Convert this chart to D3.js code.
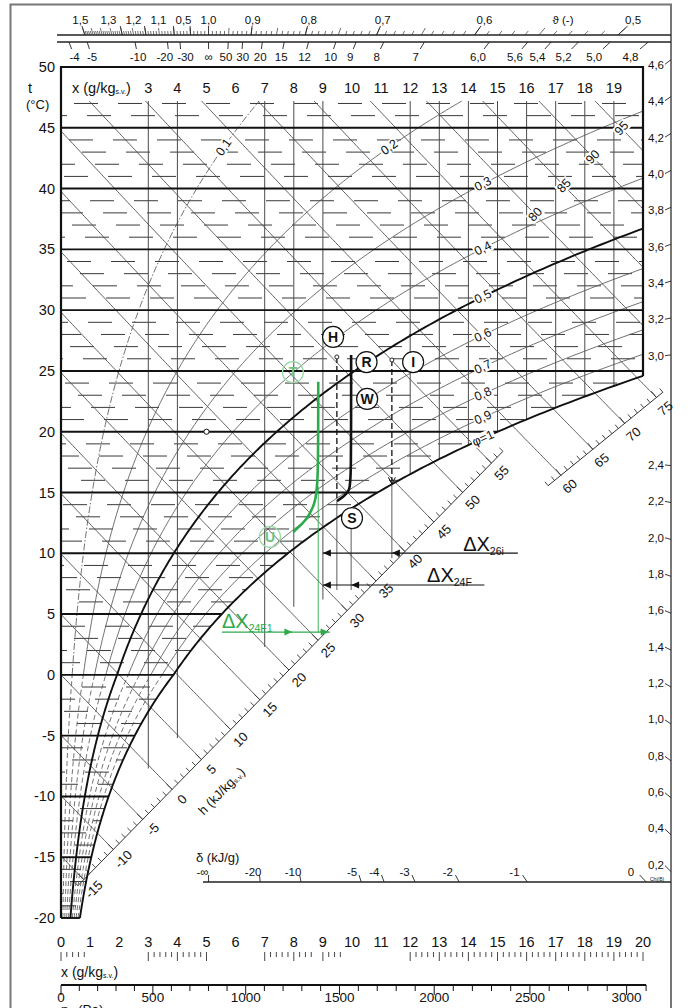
<!DOCTYPE html>
<html>
<head>
<meta charset="utf-8">
<script src="https://cdn.jsdelivr.net/npm/d3@7/dist/d3.min.js"></script>
<style>
  html,body{margin:0;padding:0;background:#fff;}
  svg text{font-family:"Liberation Sans",Arial,sans-serif;fill:#111;}
</style>
</head>
<body>
<svg id="chart" width="688" height="1008"></svg>
<script>
// ---------------- chart values ----------------
const totalPressure = 99000;                       // Pa
const tempLabels = [50,45,40,35,30,25,20,15,10,5,0,-5,-10,-15,-20];
const majorIsotherms = [45,40,35,30,25,20,15,10,5,0,-5,-10,-15,-20];
const xTopLabels = [3,4,5,6,7,8,9,10,11,12,13,14,15,16,17,18,19];
const xBottomLabels = [0,1,2,3,4,5,6,7,8,9,10,11,12,13,14,15,16,17,18,19,20];
const xGridLines = [3,4,7,8,9,12,13,14,15,16,17,18,19];
const xGridLowT  = [-7.7,-5.2,2.3,5.6,6.2,null,null,null,null,null,null,null,null]; // null: ends on φ=1
const phiLevels = [0.1,0.2,0.3,0.4,0.5,0.6,0.7,0.8,0.9,1.0];
const phiNames  = ["0,1","0,2","0,3","0,4","0,5","0,6","0,7","0,8","0,9","φ=1"];
const phiHeavy  = [0.5,1.0];
const enthalpyLevels = [-15,-10,-5,0,5,10,15,20,25,30,35,40,45,50,55,60,65,70,75,80,85,90,95];
const enthalpyScaleLabels = [-15,-10,-5,0,5,10,15,20,25,30,35,40,45,50,55,60,65,70,75];
const enthalpyFieldLabels = [80,85,90,95];
const thetaValues = [1.5,1.3,1.2,1.1,1.05,1.0,0.9,0.8,0.7,0.6,0.5];
const thetaNames  = ["1,5","1,3","1,2","1,1","0,5","1,0","0,9","0,8","0,7","0,6","0,5"];
const deltaTopValues = [-4,-5,-10,-20,-30,Infinity,50,30,20,15,12,10,9,8,7,6.0,5.6,5.4,5.2,5.0,4.8];
const deltaTopNames  = ["-4","-5","-10","-20","-30","∞","50","30","20","15","12","10","9","8","7","6,0","5,6","5,4","5,2","5,0","4,8"];
const deltaRightValues = [4.6,4.4,4.2,4.0,3.8,3.6,3.4,3.2,3.0,2.4,2.2,2.0,1.8,1.6,1.4,1.2,1.0,0.8,0.6,0.4,0.2];
const deltaBottomValues = [-Infinity,-20,-10,-5,-4,-3,-2,-1,0];
const deltaBottomNames  = ["-∞","-20","-10","-5","-4","-3","-2","-1","0"];
const pressureLabels = [0,500,1000,1500,2000,2500,3000];

// process paths, (x g/kg, t °C)
const processRS = [[9.97,26.3],[9.97,16.0],[9.92,15.2],[9.72,14.65],[9.48,14.3]];
const processTU = [[8.84,24.1],[8.84,15.5],[8.73,14.1],[8.44,12.7],[7.98,11.75]];
const pointMarks = [
  {name:"H", x:9.35, t:27.8, green:false},
  {name:"R", x:10.5, t:25.73, green:false},
  {name:"I", x:12.1, t:25.73, green:false},
  {name:"W", x:10.52,t:22.7, green:false},
  {name:"S", x:10.0, t:12.9, green:false},
  {name:"T", x:7.97, t:24.9, green:true},
  {name:"U", x:7.18, t:11.35, green:true}
];

// ---------------- scales ----------------
const xS = d3.scaleLinear().domain([0,20]).range([61,643]);
const yS = d3.scaleLinear().domain([-20,50]).range([918,67]);
const pix = d => [xS(d[0]), yS(d[1])];
const lineXT = d3.line().x(d => xS(d[0])).y(d => yS(d[1]));
const T_TOP = 47.2;

// ---------------- moist air ----------------
function pSat(t){ return t>=0 ? 611.2*Math.exp(17.62*t/(243.12+t)) : 611.2*Math.exp(22.46*t/(272.62+t)); }
function xOfPv(pv){ return 622*pv/(totalPressure-pv); }
function xSat(t){ return xOfPv(pSat(t)); }
function tOfH(h,x){ return (h-2.501*x)/(1.006+0.00186*x); }
function tForPhiX(phi,x){
  let lo=-45, hi=80;
  for(let i=0;i<60;i++){ const m=(lo+hi)/2; if(xOfPv(phi*pSat(m))<x) lo=m; else hi=m; }
  return (lo+hi)/2;
}
const tCorner = tForPhiX(1,20);

const svg = d3.select("#chart");
svg.append("rect").attr("x",10.5).attr("y",4.5).attr("width",660.5).attr("height",1012)
  .attr("fill","none").attr("stroke","#777").attr("stroke-width",2);
const gMinor = svg.append("g");
const gLines = svg.append("g");
const gMajor = svg.append("g");
const gText  = svg.append("g");
const gAnno  = svg.append("g");

// ---------------- minor isotherms (1 K) ----------------
yS.ticks(70).filter(t => t % 5 !== 0 && t > -20 && t <= T_TOP).forEach(t => {
  const xe = t < tCorner ? xSat(t) : 20;
  gMinor.append("line")
    .attr("x1",xS(0)).attr("x2",xS(xe)).attr("y1",yS(t)).attr("y2",yS(t))
    .attr("stroke","#3a3a3a").attr("stroke-width",1)
    .attr("stroke-dasharray","24,20")
    .attr("stroke-dashoffset",((t+40)*13)%44);
});

// ---------------- h scale rulers ----------------
const rulerA = [pix([1.17,-15.9]), pix([15.84,19.98])];
const rulerB = [pix([17.15,16.36]), pix([20.27,22.44])];
const rulerFor = h => h <= 57.5 ? rulerA : rulerB;
function hStart(h){
  return tOfH(h,0) > T_TOP ? (h-1.006*T_TOP)/(2.501+0.00186*T_TOP) : 0;
}
function rulerHit(h){
  const r = rulerFor(h);
  const ux=r[1][0]-r[0][0], uy=r[1][1]-r[0][1];
  const f = x => { const p = pix([x,tOfH(h,x)]); return ux*(p[1]-r[0][1]) - uy*(p[0]-r[0][0]); };
  let lo=hStart(h), hi=27; const s=Math.sign(f(lo));
  for(let i=0;i<60;i++){ const m=(lo+hi)/2; if(Math.sign(f(m))===s) lo=m; else hi=m; }
  return (lo+hi)/2;
}
function rulerGeom(h){
  const r = rulerFor(h);
  const len = Math.hypot(r[1][0]-r[0][0], r[1][1]-r[0][1]);
  const u = [(r[1][0]-r[0][0])/len, (r[1][1]-r[0][1])/len];
  const n = [-u[1], u[0]];             // towards lower right
  return {u, n, ang: Math.atan2(u[1],u[0])*180/Math.PI};
}
const rulerPoint = h => { const xh = rulerHit(h); return pix([xh, tOfH(h,xh)]); };

// ---------------- enthalpy lines ----------------
enthalpyLevels.forEach(h => {
  const x0 = hStart(h);
  if (x0 >= 20) return;
  const x1 = h > 76 ? 20 : rulerHit(h);
  const pts = d3.range(x0, x1, 0.05).map(x => [x, tOfH(h,x)]);
  pts.push([x1, tOfH(h,x1)]);
  gLines.append("path").attr("d",lineXT(pts)).attr("fill","none")
    .attr("stroke","#4a4a4a").attr("stroke-width",0.9);
});

// ruler combs
[[-16,57],[58,76]].forEach(([h0,h1]) => {
  const a = rulerPoint(h0), b = rulerPoint(h1);
  gLines.append("line").attr("x1",a[0]).attr("y1",a[1]).attr("x2",b[0]).attr("y2",b[1])
    .attr("stroke","#333").attr("stroke-width",1);
  d3.range(h0,h1+1).forEach(h => {
    const p = rulerPoint(h), g = rulerGeom(h);
    const L = h % 5 === 0 ? 8 : 5;
    gLines.append("line").attr("x1",p[0]).attr("y1",p[1])
      .attr("x2",p[0]-g.n[0]*L).attr("y2",p[1]-g.n[1]*L)
      .attr("stroke","#333").attr("stroke-width",0.9);
  });
});
enthalpyScaleLabels.forEach(h => {
  const p = rulerPoint(h), g = rulerGeom(h);
  gText.append("text")
    .attr("transform",`translate(${p[0]+g.n[0]*14},${p[1]+g.n[1]*14}) rotate(${g.ang})`)
    .attr("text-anchor","middle").attr("dominant-baseline","central")
    .attr("font-size",13).text(h);
});
gText.append("text")
  .attr("transform",(() => { const p=rulerPoint(4), g=rulerGeom(4);
      return `translate(${p[0]+g.n[0]*36},${p[1]+g.n[1]*36}) rotate(${g.ang})`; })())
  .attr("text-anchor","middle").attr("dominant-baseline","central").attr("font-size",13)
  .call(t => { t.append("tspan").text("h (kJ/kg");
               t.append("tspan").attr("font-size",7).attr("dy",3).text("s.v.");
               t.append("tspan").attr("dy",-3).text(")"); });

// ---------------- x = const lines ----------------
xGridLines.forEach((x,i) => {
  const tl = xGridLowT[i] === null ? tForPhiX(1,x) : xGridLowT[i];
  gLines.append("line").attr("x1",xS(x)).attr("x2",xS(x)).attr("y1",yS(T_TOP)).attr("y2",yS(tl))
    .attr("stroke","#4a4a4a").attr("stroke-width",1);
});

// ---------------- relative humidity curves ----------------
function phiCurve(phi, tFrom, tTo){
  const pts = [];
  for (let t=tFrom; t<=tTo+1e-9; t+=0.2){
    const x = xOfPv(phi*pSat(t));
    if (x > 20){ pts.push([20, tForPhiX(phi,20)]); return pts; }
    pts.push([x,t]);
  }
  if (tTo === T_TOP) pts.push([xOfPv(phi*pSat(T_TOP)), T_TOP]);
  return pts;
}
phiLevels.forEach(phi => {
  const heavy = phiHeavy.includes(phi);
  if (heavy){
    gMajor.append("path").attr("d",lineXT(phiCurve(phi,-20,T_TOP))).attr("fill","none")
      .attr("stroke","#111").attr("stroke-width",1.9);
    return;
  }
  // frost range drawn dashed, the rest solid
  gLines.append("path").attr("d",lineXT(phiCurve(phi,-20,0))).attr("fill","none")
    .attr("stroke","#555").attr("stroke-width",0.85).attr("stroke-dasharray","5,3");
  gLines.append("path").attr("d",lineXT(phiCurve(phi,0,T_TOP))).attr("fill","none")
    .attr("stroke","#555").attr("stroke-width",0.85)
    .attr("stroke-dasharray", phi === 0.1 ? "7,2,1.5,2" : null);
});

// ---------------- major isotherms & frame ----------------
majorIsotherms.forEach(t => {
  const xe = t < tCorner ? xSat(t) : 20;
  gMajor.append("line").attr("x1",xS(0)).attr("x2",xS(xe)).attr("y1",yS(t)).attr("y2",yS(t))
    .attr("stroke","#111").attr("stroke-width",1.9);
});
gMajor.append("path")
  .attr("d",`M${xS(0)},${yS(-20)}V${yS(50)}H${xS(20)}V${yS(tCorner)}`)
  .attr("fill","none").attr("stroke","#111").attr("stroke-width",2.2);
gMajor.append("circle").attr("cx",xS(5)).attr("cy",yS(20)).attr("r",2.6)
  .attr("fill","#fff").attr("stroke","#111").attr("stroke-width",1);

// ---------------- labels on curves ----------------
function tagged(g, text, p, ang, size){
  const gg = g.append("g").attr("transform",`translate(${p[0]},${p[1]}) rotate(${ang})`);
  const tx = gg.append("text").attr("text-anchor","middle").attr("dominant-baseline","central")
    .attr("font-size",size).text(text);
  const bb = tx.node().getBBox();
  gg.insert("rect","text").attr("x",bb.x-1).attr("y",bb.y+1).attr("width",bb.width+2).attr("height",bb.height-2).attr("fill","#fff");
}
phiLevels.forEach((phi,i) => {
  let t, x;
  if (phi < 0.25){ t = 43.4; x = xOfPv(phi*pSat(t)); }
  else { x = 14.5; t = tForPhiX(phi,x); }
  const a = pix([xOfPv(phi*pSat(t-0.4)), t-0.4]), b = pix([xOfPv(phi*pSat(t+0.4)), t+0.4]);
  const ang = Math.atan2(b[1]-a[1], b[0]-a[0])*180/Math.PI;
  tagged(gText, phiNames[i], pix([x,t]), ang, 12.5);
});
// enthalpy values in the field, along a 45° guide through the upper right
enthalpyFieldLabels.forEach(h => {
  const guide = xS(19.28) + yS(45);
  let lo=0, hi=20;
  for(let i=0;i<50;i++){ const m=(lo+hi)/2; const p=pix([m,tOfH(h,m)]); if(p[0]+p[1]<guide) lo=m; else hi=m; }
  tagged(gText, String(h), pix([lo,tOfH(h,lo)]), -47, 12.5);
});

// ---------------- axes text ----------------
tempLabels.forEach(t => {
  gText.append("text").attr("x",55).attr("y",yS(t)).attr("text-anchor","end")
    .attr("dominant-baseline","central").attr("font-size",14.5).text(t);
});
gText.append("text").attr("x",28).attr("y",88).attr("font-size",14.5).attr("dominant-baseline","central").text("t");
gText.append("text").attr("x",26).attr("y",104).attr("font-size",13).attr("dominant-baseline","central").text("(°C)");
gText.append("text").attr("x",72).attr("y",88).attr("font-size",14.5).attr("dominant-baseline","central")
  .call(t => { t.append("tspan").text("x (g/kg");
               t.append("tspan").attr("font-size",7).attr("dy",3).text("s.v.");
               t.append("tspan").attr("dy",-3).text(")"); });
xTopLabels.forEach(x => {
  gText.append("text").attr("x",xS(x)).attr("y",88).attr("text-anchor","middle")
    .attr("dominant-baseline","central").attr("font-size",14.5).text(x);
});

// bottom x axis
const yXLab = 942;
xBottomLabels.forEach(x => {
  gText.append("text").attr("x",xS(x)).attr("y",yXLab).attr("text-anchor","middle")
    .attr("dominant-baseline","central").attr("font-size",14.5).text(x);
});
[[0,0.8],[3,5],[7,8.6],[9,9.6],[12,20]].forEach(([a,b]) => {
  d3.range(a, b+0.001, 0.2).forEach(x => {
    const major = Math.abs(x-Math.round(x)) < 0.01;
    gText.append("line").attr("x1",xS(x)).attr("x2",xS(x)).attr("y1",952).attr("y2",major?961:957)
      .attr("stroke","#333").attr("stroke-width",0.9);
  });
});
gText.append("text").attr("x",61).attr("y",972).attr("font-size",14).attr("dominant-baseline","central")
  .call(t => { t.append("tspan").text("x (g/kg");
               t.append("tspan").attr("font-size",7).attr("dy",3).text("s.v.");
               t.append("tspan").attr("dy",-3).text(")"); });

// vapour pressure axis
const pvX = p => xS(xOfPv(p));
const yPv = 985;
gText.append("line").attr("x1",pvX(0)).attr("x2",pvX(3100)).attr("y1",yPv).attr("y2",yPv)
  .attr("stroke","#111").attr("stroke-width",1.8);
d3.range(0,3101,100).forEach(p => {
  gText.append("line").attr("x1",pvX(p)).attr("x2",pvX(p)).attr("y1",yPv).attr("y2",p%500===0?yPv+10:yPv+6)
    .attr("stroke","#111").attr("stroke-width",1);
});
pressureLabels.forEach(p => {
  gText.append("text").attr("x",pvX(p)).attr("y",997).attr("text-anchor","middle")
    .attr("dominant-baseline","central").attr("font-size",13.5).text(p);
});
gText.append("text").attr("x",61).attr("y",1014).attr("font-size",13.5)
  .call(t => { t.append("tspan").text("p");
               t.append("tspan").attr("font-size",8).attr("dy",3).text("w");
               t.append("tspan").attr("dy",-3).text(" (Pa)"); });

// ---------------- edge scale (direction δ = Δh/Δx) ----------------
const pole = pix([5.07,21.46]);
const slopeK = 0.399, deltaH0 = 2.68;
const rayTopX = (d, y) => isFinite(d) ? pole[0] + (pole[1]-y)/(slopeK*(d-deltaH0)) : pole[0];
const rayRightY = (d, x) => pole[1] - slopeK*(d-deltaH0)*(x-pole[0]);
const rayBottomX = (d, y) => isFinite(d) ? pole[0] + (y-pole[1])/(slopeK*(deltaH0-d)) : pole[0];
const yTheta = 35, yDeltaTop = 42, xRight = 671, yDeltaBottom = 882;

// keeps neighbouring labels on a straight scale from overlapping
function spreadLabels(sel, gap){
  const nodes = sel.nodes().map(n => ({n, x:+n.getAttribute("x"), w:n.getBBox().width}))
    .sort((a,b) => a.x-b.x);
  for (let it=0; it<80; it++){
    let moved=false;
    for (let i=0;i<nodes.length-1;i++){
      const a=nodes[i], b=nodes[i+1];
      const need=(a.w+b.w)/2+gap-(b.x-a.x);
      if (need>0.01){ a.x-=need/2; b.x+=need/2; moved=true; }
    }
    if(!moved) break;
  }
  nodes.forEach(o => o.n.setAttribute("x", o.x));
}
// pushes crowded labels leftwards, keeping the rightmost one in place
function pushLeft(sel, gap){
  const nodes = sel.nodes().map(n => ({n, x:+n.getAttribute("x"), w:n.getBBox().width}))
    .sort((a,b) => b.x-a.x);
  for (let i=1;i<nodes.length;i++){
    const lim = nodes[i-1].x - (nodes[i-1].w+nodes[i].w)/2 - gap;
    nodes[i].x = Math.min(nodes[i].x, lim);
  }
  nodes.forEach(o => o.n.setAttribute("x", o.x));
}

gText.append("line").attr("x1",57).attr("x2",xRight).attr("y1",yTheta).attr("y2",yTheta).attr("stroke","#222").attr("stroke-width",1.4);
gText.append("line").attr("x1",57).attr("x2",xRight).attr("y1",yDeltaTop).attr("y2",yDeltaTop).attr("stroke","#222").attr("stroke-width",1.4);
gText.append("line").attr("x1",203).attr("x2",xRight).attr("y1",yDeltaBottom).attr("y2",yDeltaBottom).attr("stroke","#222").attr("stroke-width",1.6);

// sensible heat ratio ϑ on the upper line
const deltaOfTheta = th => Math.abs(th-1) < 1e-9 ? Infinity : 2.5/(1-th);
d3.range(0.5,1.505,0.01).forEach(th => {
  if (Math.abs(th-1) < 0.005) return;
  const d = deltaOfTheta(th);
  const xa = rayTopX(d, yTheta);
  if (xa < 57 || xa > xRight) return;
  const L = Math.abs(th*20-Math.round(th*20))<0.01 ? 7 : 4;
  gText.append("line").attr("x1",xa).attr("y1",yTheta).attr("x2",rayTopX(d,yTheta-L)).attr("y2",yTheta-L)
    .attr("stroke","#333").attr("stroke-width",0.7);
});
const thetaLeft = gText.append("g"), thetaRight = gText.append("g");
thetaValues.forEach((th,i) => {
  const d = deltaOfTheta(th);
  gText.append("line").attr("x1",rayTopX(d,yTheta)).attr("y1",yTheta).attr("x2",rayTopX(d,yTheta-9)).attr("y2",yTheta-9)
    .attr("stroke","#222").attr("stroke-width",0.9);
  (th >= 1 ? thetaLeft : thetaRight).append("text").attr("x",rayTopX(d,21)).attr("y",20).attr("text-anchor","middle")
    .attr("dominant-baseline","central").attr("font-size",11.5).text(thetaNames[i]);
});
thetaRight.append("text").attr("x",563).attr("y",20).attr("text-anchor","middle").attr("dominant-baseline","central")
  .attr("font-size",11.5).text("ϑ (-)");
pushLeft(thetaLeft.selectAll("text"), 9);
spreadLabels(thetaRight.selectAll("text"), 4);

// δ along the top
const deltaTopText = gText.append("g");
deltaTopValues.forEach((d,i) => {
  gText.append("line").attr("x1",rayTopX(d,yDeltaTop)).attr("y1",yDeltaTop)
    .attr("x2",rayTopX(d,yDeltaTop+7)).attr("y2",yDeltaTop+7).attr("stroke","#222").attr("stroke-width",0.9);
  deltaTopText.append("text").attr("x",rayTopX(d,57)).attr("y",57).attr("text-anchor","middle")
    .attr("dominant-baseline","central").attr("font-size",11.5).text(deltaTopNames[i]);
});
spreadLabels(deltaTopText.selectAll("text"), 4);
// δ along the right edge
deltaRightValues.forEach(d => {
  gText.append("line").attr("x1",xRight-6).attr("y1",rayRightY(d,xRight-6)).attr("x2",xRight).attr("y2",rayRightY(d,xRight))
    .attr("stroke","#222").attr("stroke-width",0.9);
  gText.append("text").attr("x",xRight-7).attr("y",rayRightY(d,xRight-7)).attr("text-anchor","end")
    .attr("dominant-baseline","central").attr("font-size",11.5).text(d.toFixed(1).replace(".",","));
});
// δ along the bottom
deltaBottomValues.forEach((d,i) => {
  gText.append("line").attr("x1",rayBottomX(d,yDeltaBottom-7)).attr("y1",yDeltaBottom-7)
    .attr("x2",rayBottomX(d,yDeltaBottom)).attr("y2",yDeltaBottom).attr("stroke","#222").attr("stroke-width",0.9);
  gText.append("text").attr("x",rayBottomX(d,yDeltaBottom-10)-6).attr("y",yDeltaBottom-10).attr("text-anchor","middle")
    .attr("dominant-baseline","central").attr("font-size",11.5).text(deltaBottomNames[i]);
});
gText.append("text").attr("x",196).attr("y",857).attr("font-size",13).attr("dominant-baseline","central").text("δ (kJ/g)");
gText.append("text").attr("x",650).attr("y",879).attr("font-size",5).attr("dominant-baseline","central").text("Chj(B)");

// ---------------- process annotation ----------------
const smooth = d3.line().x(d => xS(d[0])).y(d => yS(d[1])).curve(d3.curveBasis);
function arrow(g, x, y, dir, color){
  const L=8, w=3.5;
  const p = dir==="left" ? `M${x},${y}L${x+L},${y-w}L${x+L},${y+w}Z`
          : `M${x},${y}L${x-L},${y-w}L${x-L},${y+w}Z`;
  g.append("path").attr("d",p).attr("fill",color);
}
const tSatI = tForPhiX(1,11.37);
// dashed verticals
[[9.48,26.15,14.3],[11.37,25.9,tSatI]].forEach(([x,t0,t1]) => {
  gAnno.append("line").attr("x1",xS(x)).attr("x2",xS(x)).attr("y1",yS(t0)).attr("y2",yS(t1))
    .attr("stroke","#111").attr("stroke-width",1.3).attr("stroke-dasharray","6,3");
  gAnno.append("circle").attr("cx",xS(x)).attr("cy",yS(t0)).attr("r",2).attr("fill","#fff").attr("stroke","#111").attr("stroke-width",0.9);
});
gAnno.append("path").attr("d",`M${xS(11.37)-3.5},${yS(tSatI)-7}L${xS(11.37)},${yS(tSatI)}L${xS(11.37)+3.5},${yS(tSatI)-7}`)
  .attr("fill","none").attr("stroke","#111").attr("stroke-width",1);
// thin extension lines for the Δx dimensions
[[9.48,14.3,6.98],[9.97,12.0,6.98],[11.37,tSatI,9.6]].forEach(([x,t0,t1]) => {
  gAnno.append("line").attr("x1",xS(x)).attr("x2",xS(x)).attr("y1",yS(t0)).attr("y2",yS(t1))
    .attr("stroke","#333").attr("stroke-width",0.8);
});
gAnno.append("path").attr("d",smooth(processRS)).attr("fill","none").attr("stroke","#111").attr("stroke-width",2.6);
gAnno.append("line").attr("x1",xS(8.84)).attr("x2",xS(8.84)).attr("y1",yS(15.5)).attr("y2",yS(3.52))
  .attr("stroke","#2daa4a").attr("stroke-width",0.9);
gAnno.append("path").attr("d",smooth(processTU)).attr("fill","none").attr("stroke","#2daa4a").attr("stroke-width",2.6);

// Δx dimensions
const dims = [
  {t:10.02, x0:9.0, x1:15.7, arrows:[[9.0,"left"],[11.37,"left"]], sub:"26i", lx:13.82, lt:10.2, color:"#111"},
  {t:7.39,  x0:9.0, x1:14.55, arrows:[[9.0,"left"],[9.97,"left"]], sub:"24F", lx:12.58, lt:7.6, color:"#111"},
  {t:3.52,  x0:5.53, x1:9.24, arrows:[[7.95,"right"],[9.2,"right"]], sub:"24F1", lx:5.53, lt:3.85, color:"#2daa4a"}
];
dims.forEach(d => {
  gAnno.append("line").attr("x1",xS(d.x0)).attr("x2",xS(d.x1)).attr("y1",yS(d.t)).attr("y2",yS(d.t))
    .attr("stroke",d.color).attr("stroke-width",1.2);
  d.arrows.forEach(([x,dir]) => arrow(gAnno, xS(x), yS(d.t), dir, d.color));
  gAnno.append("text").attr("x",xS(d.lx)).attr("y",yS(d.lt)).attr("font-size",20)
    .style("fill",d.color)
    .call(t => { t.append("tspan").text("ΔX");
                 t.append("tspan").attr("font-size",10.5).attr("dy",4).text(d.sub); });
});

// circled state letters
pointMarks.forEach(m => {
  const g = gAnno.append("g").attr("transform",`translate(${xS(m.x)},${yS(m.t)})`);
  g.append("circle").attr("r",10.5).attr("fill", m.green ? "none" : "#fff")
    .attr("stroke", m.green ? "#9ad9a6" : "#111").attr("stroke-width",1.2);
  g.append("text").attr("text-anchor","middle").attr("dominant-baseline","central")
    .attr("font-size",14).attr("font-weight","bold").style("fill", m.green ? "#6cc47f" : "#111").text(m.name);
});
</script>
</body>
</html>
